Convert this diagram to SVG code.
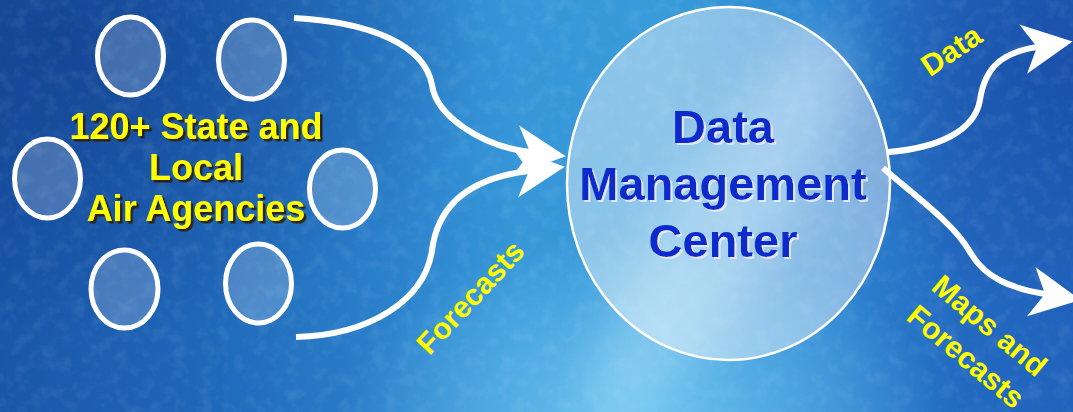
<svg xmlns="http://www.w3.org/2000/svg" width="1073" height="412" viewBox="0 0 1073 412">
  <defs>
    <linearGradient id="bgH" x1="0" y1="0" x2="1" y2="0">
      <stop offset="0" stop-color="#1a56a8"/>
      <stop offset="0.18" stop-color="#1f66b8"/>
      <stop offset="0.35" stop-color="#2a7fca"/>
      <stop offset="0.48" stop-color="#3696d8"/>
      <stop offset="0.62" stop-color="#399cda"/>
      <stop offset="0.78" stop-color="#2d84d0"/>
      <stop offset="0.9" stop-color="#2369c0"/>
      <stop offset="1" stop-color="#2063bc"/>
    </linearGradient>
    <radialGradient id="darkTL" cx="0" cy="0" r="1" gradientUnits="userSpaceOnUse" gradientTransform="translate(60,40) scale(420,300)">
      <stop offset="0" stop-color="#123f8e" stop-opacity="0.75"/>
      <stop offset="1" stop-color="#123f8e" stop-opacity="0"/>
    </radialGradient>
    <radialGradient id="darkTR" cx="0" cy="0" r="1" gradientUnits="userSpaceOnUse" gradientTransform="translate(1060,60) scale(260,260)">
      <stop offset="0" stop-color="#1748a2" stop-opacity="0.7"/>
      <stop offset="1" stop-color="#1748a2" stop-opacity="0"/>
    </radialGradient>
    <radialGradient id="lightB" cx="0" cy="0" r="1" gradientUnits="userSpaceOnUse" gradientTransform="translate(640,420) scale(300,190)">
      <stop offset="0" stop-color="#78ccf4" stop-opacity="0.8"/>
      <stop offset="1" stop-color="#78ccf4" stop-opacity="0"/>
    </radialGradient>
    <filter id="blur" x="-50%" y="-50%" width="200%" height="200%">
      <feGaussianBlur stdDeviation="25"/>
    </filter>
    <filter id="noise" x="0" y="0" width="100%" height="100%">
      <feTurbulence type="fractalNoise" baseFrequency="0.07" numOctaves="3" seed="5"/>
      <feColorMatrix type="matrix" values="0 0 0 0 0.8  0 0 0 0 0.95  0 0 0 0 1  0 0 0 1.3 -0.6"/>
    </filter>
    <filter id="yshadow" x="-10%" y="-20%" width="120%" height="140%">
      <feDropShadow dx="2.5" dy="2.5" stdDeviation="0.3" flood-color="#2a2418" flood-opacity="1"/>
    </filter>
    <filter id="bshadow" x="-10%" y="-20%" width="120%" height="140%">
      <feDropShadow dx="2" dy="2" stdDeviation="0.3" flood-color="#e2e8f2" flood-opacity="1"/>
    </filter>
    <marker id="ah" markerUnits="userSpaceOnUse" markerWidth="70" markerHeight="70" viewBox="-60 -35 70 70" refX="-36" refY="0" orient="auto">
      <path d="M0,0 L-50,-25 L-36,0 L-50,25 Z" fill="#ffffff"/>
    </marker>
    <style>
      .agency { fill: #ffffff; fill-opacity: 0.2; stroke: #ffffff; stroke-width: 5; }
      .conn { fill: none; stroke: #ffffff; stroke-width: 6; marker-end: url(#ah); }
      .big { font-family: "Liberation Sans", Arial, sans-serif; font-weight: bold; text-anchor: middle; }
      .yel { fill: #ffff00; filter: url(#yshadow); }
      .blue { fill: #0a2bcb; filter: url(#bshadow); }
      .lbl { font-family: "Liberation Sans", Arial, sans-serif; font-weight: bold; font-size: 30px; fill: #ffff00; }
    </style>
  </defs>

  <g id="background">
    <rect width="1073" height="412" fill="url(#bgH)"/>
    <rect width="1073" height="412" fill="url(#darkTL)"/>
    <rect width="1073" height="412" fill="url(#darkTR)"/>
    <rect width="1073" height="412" fill="url(#lightB)"/>
    <ellipse cx="720" cy="230" rx="55" ry="230" transform="rotate(32 720 230)" fill="#cfefff" opacity="0.35" filter="url(#blur)"/>
    <rect width="1073" height="412" filter="url(#noise)" opacity="0.16"/>
  </g>

  <g id="agency-1"><ellipse class="agency" cx="130.5" cy="56" rx="33" ry="39"/></g>
  <g id="agency-2"><ellipse class="agency" cx="251.5" cy="59.5" rx="33" ry="39.5"/></g>
  <g id="agency-3"><ellipse class="agency" cx="47.5" cy="178.5" rx="33" ry="39.5"/></g>
  <g id="agency-4"><ellipse class="agency" cx="342.5" cy="189" rx="33" ry="39"/></g>
  <g id="agency-5"><ellipse class="agency" cx="124.5" cy="289" rx="33.5" ry="39"/></g>
  <g id="agency-6"><ellipse class="agency" cx="258.5" cy="283.5" rx="33" ry="39.5"/></g>

  <g id="data-management-center">
    <ellipse cx="728.5" cy="183.5" rx="161.5" ry="176.5" fill="#ffffff" fill-opacity="0.42" stroke="#ffffff" stroke-width="2.5"/>
    <text class="big blue" font-size="47" x="723" y="143">Data</text>
    <text class="big blue" font-size="47" x="723" y="200">Management</text>
    <text class="big blue" font-size="47" x="723" y="257">Center</text>
  </g>

  <g id="connectors">
    <path class="conn" d="M294,18 C370,22 425,45 432,85 C436,115 480,146 530,152"/>
    <path class="conn" d="M296,337 C370,335 425,300 432,250 C438,205 470,178 529,171"/>
    <path class="conn" d="M888,152 C940,148 975,130 980,100 C985,65 1005,52 1037,47"/>
    <path class="conn" d="M883,168 C920,200 955,225 970,252 C985,278 1010,288 1045,294"/>
    <text class="lbl" text-anchor="middle" transform="translate(470,297) rotate(-47)" x="0" y="10.8">Forecasts</text>
    <text class="lbl" text-anchor="middle" transform="translate(951,50) rotate(-34)" x="0" y="10.8">Data</text>
    <text class="lbl" transform="translate(930,289) rotate(40)"><tspan x="0" y="0">Maps and</tspan><tspan x="0" y="39">Forecasts</tspan></text>
  </g>

  <g id="agencies-label">
    <text class="big yel" font-size="36" x="196" y="139">120+ State and</text>
    <text class="big yel" font-size="36" x="196" y="180">Local</text>
    <text class="big yel" font-size="36" x="196" y="221">Air Agencies</text>
  </g>
</svg>
